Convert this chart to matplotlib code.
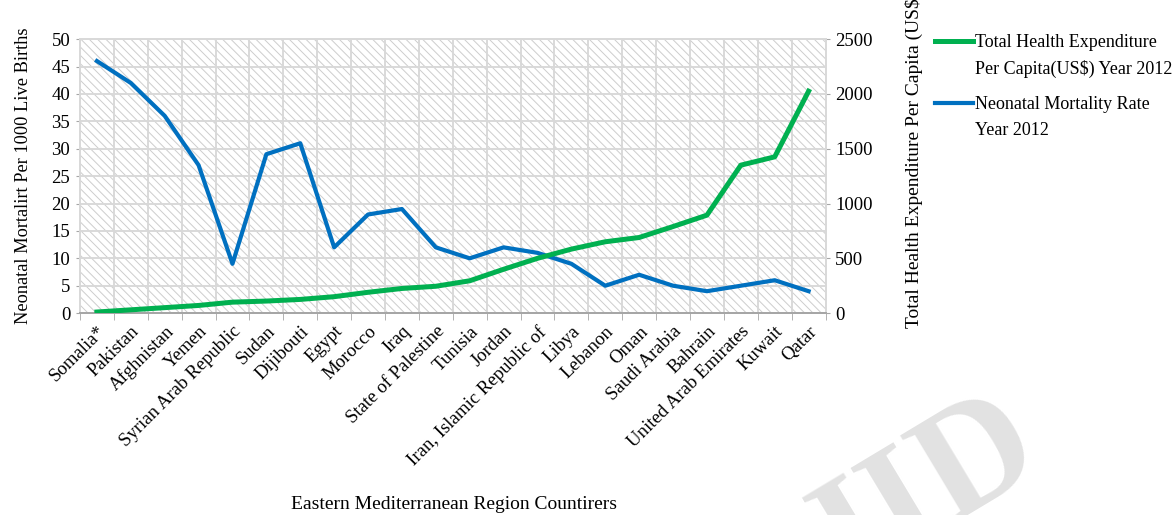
import numpy as np
import matplotlib.pyplot as plt
from matplotlib.patches import Rectangle

plt.rcParams['font.family'] = ['Liberation Serif', 'DejaVu Serif']
plt.rcParams['hatch.color'] = "#cdcdcd"
plt.rcParams['hatch.linewidth'] = 0.7

# ---- data
countries = ["Somalia*", "Pakistan", "Afghnistan", "Yemen", "Syrian Arab Republic",
             "Sudan", "Dijibouti", "Egypt", "Morocco", "Iraq", "State of Palestine",
             "Tunisia", "Jordan", "Iran, Islamic Republic of", "Libya", "Lebanon",
             "Oman", "Saudi Arabia", "Bahrain", "United Arab Emirates", "Kuwait", "Qatar"]
neonatal = [46, 42, 36, 27, 9, 29, 31, 12, 18, 19, 12, 10, 12, 11, 9, 5, 7, 5, 4, 5, 6, 4]
expenditure = [10, 30, 50, 70, 100, 110, 125, 150, 190, 225, 245, 295, 400, 500,
               584, 651, 690, 790, 894, 1350, 1426, 2025]

green = "#00b050"
blue = "#0070c0"
gridc = "#d9d9d9"
tickc = "#a6a6a6"

fig = plt.figure(figsize=(11.76, 5.15), dpi=100)

# watermark behind everything
wm = dict(fontsize=112, color="#e2e2e2", fontweight="bold", rotation=31,
          rotation_mode="anchor", va="baseline", zorder=-5)
fig.text(0.808, -0.018, "D", ha="left", **wm)
fig.text(0.808, -0.018, "JI", ha="right", **wm)

ax = fig.add_axes([0.068, 0.392, 0.634, 0.532])
ax2 = ax.twinx()

x = np.arange(len(countries))

# back axes: hatch, grid, blue line
ax.add_patch(Rectangle((0, 0), 1, 1, transform=ax.transAxes, facecolor="white",
                       hatch="\\\\\\\\", edgecolor="#cdcdcd", lw=0, zorder=0))
ax.set_xlim(-0.5, len(countries) - 0.5)
ax.set_ylim(0, 50)
ax.set_yticks(np.arange(0, 51, 5))
ax2.set_ylim(0, 2500)
ax2.set_yticks(np.arange(0, 2501, 500))

ax.set_xticks(x)
ax.set_xticklabels(countries, rotation=45, ha="right", rotation_mode="anchor", fontsize=13.5)
ax.set_xticks(np.arange(-0.5, len(countries)), minor=True)
ax.tick_params(axis="x", which="major", length=0, pad=7)
ax.tick_params(axis="x", which="minor", length=5, color=tickc)
ax.tick_params(axis="y", length=3, color=tickc, labelsize=13.5, pad=4)
ax2.tick_params(axis="y", length=3, color=tickc, labelsize=13.5, pad=4)

ax.grid(True, which="minor", axis="x", color=gridc, lw=1.4, zorder=1)
ax.grid(True, which="major", axis="y", color=gridc, lw=1.4, zorder=1)
ax.set_axisbelow(True)

for a in (ax, ax2):
    for s in a.spines.values():
        s.set_color(gridc)
        s.set_linewidth(1.4)
ax.spines["bottom"].set_color(tickc)
ax2.spines["bottom"].set_color(tickc)

l1, = ax.plot(x, neonatal, color=blue, lw=3, zorder=3,
              label="Neonatal Mortality Rate\nYear 2012")
l2, = ax2.plot(x, expenditure, color=green, lw=3.6, zorder=3,
               label="Total Health Expenditure\nPer Capita(US$) Year 2012")

ax.set_ylabel("Neonatal Mortalirt Per 1000 Live Births", fontsize=13.2, labelpad=14)
ax2.set_ylabel("Total Health Expenditure Per Capita (US$)", fontsize=14)
ax2.yaxis.set_label_coords(1.107, 0.56)
fig.text(0.386, 0.012, "Eastern Mediterranean Region Countirers", ha="center", fontsize=14)

leg = fig.legend(handles=[l2, l1], loc="upper left", bbox_to_anchor=(0.795, 0.934),
                 frameon=False, fontsize=13, handlelength=2.1, handletextpad=0.1,
                 labelspacing=1.0, borderpad=0, borderaxespad=0)
for t in leg.get_texts():
    t.set_linespacing(1.65)
# put each legend line next to the first row of its label
for ln in leg.get_lines():
    ln.set_ydata(np.asarray(ln.get_ydata()) + 0.82 * 13)

fig.savefig("out.png", dpi=100)
